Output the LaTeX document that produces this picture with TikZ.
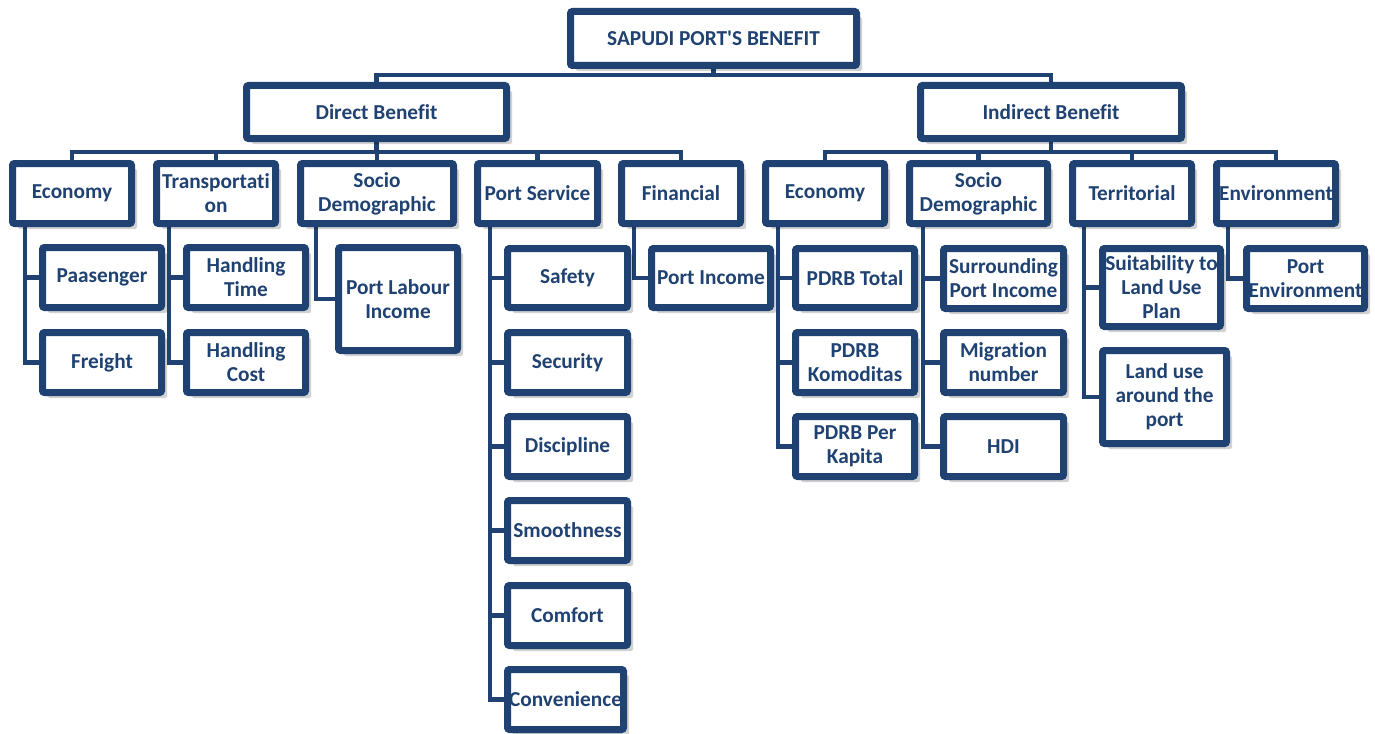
\documentclass[tikz,border=0pt]{standalone}
\usepackage{fontspec}
\setmainfont{Carlito}[Ligatures={TeXOff,NoCommon}]
\usetikzlibrary{shadows}
\definecolor{navy}{RGB}{31,66,114}
\pgfdeclarelayer{bg}
\pgfsetlayers{bg,main}
\newcommand\bx[6]{\node[box, minimum width={(#4-#2-7)*1pt}, minimum height={(#5-#3-7)*1pt}] (#1) at ({(#2+#4)/2},{(#3+#5)/2}) {#6};}
\begin{document}
\begin{tikzpicture}[x=1pt,y=-1pt,
  box/.style={draw=navy, line width=7pt, rounded corners=2pt, fill=white, inner sep=0pt,
    align=center, text=navy, font=\fontsize{21.3}{24}\selectfont\bfseries,
    drop shadow={shadow xshift=5.5pt, shadow yshift=-5.5pt, opacity=0.18, fill=black}},
  conn/.style={draw=navy, line width=4.5pt}]
\useasboundingbox (0,0) rectangle (1375,733);
% level 0 and 1
\bx{top}{567}{8}{860}{69}{SAPUDI PORT'S BENEFIT}
\bx{direct}{243}{82}{510}{142}{Direct Benefit}
\bx{indirect}{917}{82}{1185}{142}{Indirect Benefit}
% level 2
\bx{econD}{9}{160}{135}{227}{Economy}
\bx{trans}{153}{160}{279}{227}{Transportati\\on}
\bx{socioD}{297}{160}{457}{227}{Socio\\Demographic}
\bx{portserv}{474}{160}{601}{227}{Port Service}
\bx{fin}{618}{160}{744}{227}{Financial}
\bx{econI}{762}{160}{888}{227}{Economy}
\bx{socioI}{906}{160}{1051}{227}{Socio\\Demographic}
\bx{terr}{1069}{160}{1195}{227}{Territorial}
\bx{env}{1213}{160}{1339}{227}{Environment}
% level 3
\bx{pass}{39}{244}{165}{311}{Paasenger}
\bx{freight}{39}{329}{165}{396}{Freight}
\bx{htime}{183}{244}{309}{311}{Handling\\Time}
\bx{hcost}{183}{329}{309}{396}{Handling\\Cost}
\bx{plabour}{335}{244}{461}{354}{Port Labour\\Income}
\bx{safety}{504}{245}{631}{311}{Safety}
\bx{security}{504}{329}{631}{396}{Security}
\bx{discipline}{504}{413}{631}{480}{Discipline}
\bx{smooth}{504}{497}{631}{564}{Smoothness}
\bx{comfort}{504}{582}{631}{649}{Comfort}
\bx{conven}{504}{666}{627}{733}{Convenience}
\bx{pincome}{648}{245}{774}{311}{Port Income}
\bx{pdrbT}{792}{245}{918}{311}{PDRB Total}
\bx{pdrbK}{792}{329}{918}{396}{PDRB\\Komoditas}
\bx{pdrbP}{792}{413}{918}{480}{PDRB Per\\Kapita}
\bx{surr}{940}{245}{1067}{312}{Surrounding\\Port Income}
\bx{migr}{940}{329}{1067}{396}{Migration\\number}
\bx{hdi}{940}{413}{1067}{480}{HDI}
\bx{suit}{1099}{245}{1224}{330}{Suitability to\\Land Use\\Plan}
\bx{landuse}{1099}{347}{1230}{447}{Land use\\around the\\port}
\bx{penv}{1243}{245}{1368}{312}{Port\\Environment}
% connectors
\begin{pgfonlayer}{bg}
\coordinate (b0) at (0,75);
\coordinate (b1) at (0,152);
\draw[conn] (top.south) -- (top.south |- b0);
\draw[conn] (direct.north) -- (direct.north |- b0) -| (indirect.north);
\draw[conn] (direct.south) -- (direct.south |- b1);
\draw[conn] (econD.north) -- (econD.north |- b1) -| (fin.north);
\draw[conn] (trans.north) -- (trans.north |- b1);
\draw[conn] (socioD.north) -- (socioD.north |- b1);
\draw[conn] (portserv.north) -- (portserv.north |- b1);
\draw[conn] (indirect.south) -- (indirect.south |- b1);
\draw[conn] (econI.north) -- (econI.north |- b1) -| (env.north);
\draw[conn] (socioI.north) -- (socioI.north |- b1);
\draw[conn] (terr.north) -- (terr.north |- b1);
% child links
\coordinate (vA) at (25,0);
\coordinate (vB) at (169,0);
\coordinate (vC) at (316,0);
\coordinate (vD) at (490,0);
\coordinate (vE) at (634,0);
\coordinate (vF) at (778,0);
\coordinate (vG) at (923,0);
\coordinate (vH) at (1084,0);
\coordinate (vI) at (1228,0);
\foreach \c in {pass,freight} \draw[conn] (econD.south -| vA) |- (\c.west);
\foreach \c in {htime,hcost} \draw[conn] (trans.south -| vB) |- (\c.west);
\draw[conn] (socioD.south -| vC) |- (plabour.west);
\foreach \c in {safety,security,discipline,smooth,comfort,conven} \draw[conn] (portserv.south -| vD) |- (\c.west);
\draw[conn] (fin.south -| vE) |- (pincome.west);
\foreach \c in {pdrbT,pdrbK,pdrbP} \draw[conn] (econI.south -| vF) |- (\c.west);
\foreach \c in {surr,migr,hdi} \draw[conn] (socioI.south -| vG) |- (\c.west);
\foreach \c in {suit,landuse} \draw[conn] (terr.south -| vH) |- (\c.west);
\draw[conn] (env.south -| vI) |- (penv.west);
\end{pgfonlayer}
\end{tikzpicture}
\end{document}
